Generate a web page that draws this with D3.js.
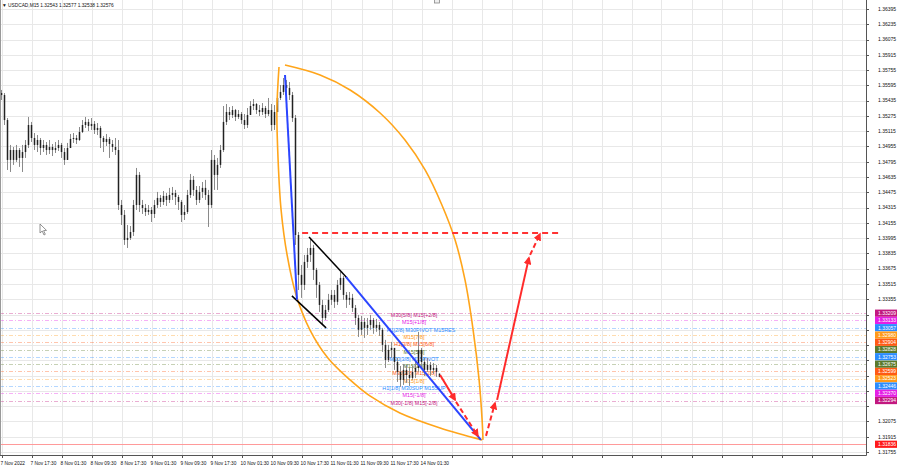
<!DOCTYPE html>
<html><head><meta charset="utf-8">
<script src="https://cdn.jsdelivr.net/npm/d3@7"></script>
<style>body{margin:0;background:#fff}svg{display:block;font-family:"Liberation Sans",Arial,sans-serif}</style>
</head><body><svg id="c" width="900" height="468"></svg>
<script>
// ---- data ----
const symbolTitle = "\u25BC USDCAD,M15  1.32543 1.32577 1.32538 1.32576";
const closes = [1.35494,1.35232,1.34814,1.34918,1.34814,1.34918,1.34835,1.34897,1.34971,1.35180,
1.35044,1.34971,1.35023,1.34939,1.34971,1.34918,1.34950,1.34918,1.34939,1.34971,
1.34897,1.34814,1.34939,1.35034,1.35044,1.35023,1.35107,1.35180,1.35212,1.35170,
1.35191,1.35128,1.35149,1.35044,1.35002,1.35034,1.34981,1.34950,1.34918,1.34342,
1.34238,1.33976,1.33997,1.34059,1.34342,1.34657,1.34342,1.34311,1.34269,1.34290,
1.34248,1.34342,1.34416,1.34374,1.34437,1.34395,1.34447,1.34468,1.34426,1.34374,
1.34238,1.34269,1.34447,1.34605,1.34500,1.34395,1.34479,1.34521,1.34447,1.34342,
1.34814,1.34657,1.34762,1.34918,1.35212,1.35316,1.35285,1.35337,1.35264,1.35295,
1.35232,1.35180,1.35285,1.35379,1.35400,1.35337,1.35316,1.35358,1.35295,1.35337,
1.35180,1.35316,1.35463,1.35526,1.35599,1.35568,1.35494,1.35253,1.34028,1.33610,
1.33505,1.33746,1.33819,1.33892,1.33662,1.33505,1.33295,1.33159,1.33243,1.33349,
1.33400,1.33328,1.33505,1.33578,1.33400,1.33349,1.33369,1.33264,1.33159,1.33035,
1.33117,1.33055,1.33086,1.33138,1.33055,1.33086,1.33035,1.32877,1.32719,1.32824,
1.32845,1.32698,1.32594,1.32510,1.32615,1.32562,1.32531,1.32594,1.32635,1.32824,
1.32698,1.32615,1.32667,1.32615,1.32635,1.32594,1.32576];
const highs = [1.35547,1.35515,1.35253,1.34971,1.34950,1.34971,1.34939,1.34971,1.35023,1.35264,
1.35212,1.35096,1.35075,1.35044,1.35023,1.35002,1.35023,1.34981,1.35002,1.35023,
1.34992,1.34939,1.34992,1.35086,1.35096,1.35075,1.35159,1.35232,1.35264,1.35243,
1.35253,1.35222,1.35201,1.35170,1.35065,1.35086,1.35054,1.35023,1.35044,1.35023,
1.34395,1.34290,1.34133,1.34122,1.34395,1.34730,1.34688,1.34395,1.34353,1.34342,
1.34321,1.34395,1.34479,1.34447,1.34489,1.34468,1.34521,1.34531,1.34500,1.34447,
1.34395,1.34342,1.34500,1.34667,1.34646,1.34541,1.34541,1.34583,1.34605,1.34500,
1.34918,1.34866,1.34835,1.34971,1.35379,1.35400,1.35368,1.35379,1.35348,1.35337,
1.35316,1.35295,1.35358,1.35431,1.35452,1.35410,1.35389,1.35410,1.35379,1.35463,
1.35400,1.35389,1.35547,1.35599,1.35672,1.35651,1.35630,1.35526,1.35285,1.34059,
1.33714,1.33819,1.33892,1.33997,1.33924,1.33683,1.33536,1.33349,1.33295,1.33411,
1.33452,1.33452,1.33557,1.33641,1.33599,1.33431,1.33431,1.33411,1.33295,1.33191,
1.33180,1.33159,1.33159,1.33191,1.33159,1.33149,1.33117,1.33055,1.32929,1.32877,
1.32908,1.32845,1.32740,1.32656,1.32677,1.32667,1.32635,1.32656,1.32719,1.33014,
1.32845,1.32740,1.32740,1.32698,1.32688,1.32667,1.32577];
const lows = [1.35442,1.35180,1.34709,1.34688,1.34762,1.34793,1.34741,1.34688,1.34835,1.34939,
1.35002,1.34918,1.34897,1.34866,1.34897,1.34866,1.34876,1.34855,1.34887,1.34908,
1.34835,1.34762,1.34814,1.34939,1.34992,1.34981,1.35013,1.35096,1.35149,1.35117,
1.35128,1.35086,1.35075,1.34939,1.34897,1.34960,1.34835,1.34897,1.34866,1.34290,
1.34133,1.33924,1.33892,1.33976,1.34018,1.34290,1.34269,1.34248,1.34227,1.34238,
1.34164,1.34206,1.34311,1.34321,1.34342,1.34332,1.34363,1.34395,1.34342,1.34290,
1.34164,1.34185,1.34248,1.34416,1.34437,1.34342,1.34363,1.34416,1.34395,1.34112,
1.34311,1.34500,1.34500,1.34730,1.34897,1.35180,1.35232,1.35253,1.35222,1.35243,
1.35191,1.35138,1.35149,1.35316,1.35337,1.35295,1.35274,1.35285,1.35253,1.35274,
1.35117,1.35128,1.35400,1.35442,1.35494,1.35505,1.35442,1.35212,1.33924,1.33452,
1.33369,1.33452,1.33683,1.33746,1.33557,1.33369,1.33222,1.33096,1.33138,1.33222,
1.33295,1.33264,1.33295,1.33452,1.33349,1.33264,1.33295,1.33222,1.33086,1.32960,
1.32981,1.32950,1.32981,1.33035,1.32993,1.33014,1.32971,1.32803,1.32635,1.32698,
1.32740,1.32615,1.32489,1.32437,1.32458,1.32479,1.32447,1.32510,1.32531,1.32594,
1.32635,1.32552,1.32594,1.32552,1.32573,1.32541,1.32538];
const firstOpen = 1.35515, lastOpen = 1.32543;

const timeLabels = ["7 Nov 2022","7 Nov 17:30","8 Nov 01:30","8 Nov 09:30","8 Nov 17:30","9 Nov 01:30","9 Nov 09:30","9 Nov 17:30","10 Nov 01:30","10 Nov 09:30","10 Nov 17:30","11 Nov 01:30","11 Nov 09:30","11 Nov 17:30","14 Nov 01:30"];
const timeLabelBars = [0,10,20,30,40,50,60,70,80,90,100,110,120,130,140];
const priceTicks = [1.31755,1.31915,1.32075,1.32235,1.32395,1.32555,1.32715,1.32875,1.33035,1.33195,1.33355,1.33515,1.33675,1.33835,1.33995,1.34155,1.34315,1.34475,1.34635,1.34795,1.34955,1.35115,1.35275,1.35435,1.35595,1.35755,1.35915,1.36075,1.36235,1.36395];

const levelPrices = [1.33209,1.33133,1.33057,1.32980,1.32904,1.32828,1.32753,1.32675,1.32599,1.32523,1.32446,1.32370,1.32294];
const levelNames = ["M30[5/8] M15[+2/8]","M15[+1/8]","H1[2/8] M30PIVOT M15RES","M15[7/8]","H1[3/8] M15[6/8]","M15[5/8]","M30[3/8] M15PIVOT","M15[3/8]","M30[2/8] M15[2/8]","M15[1/8]","H1[1/8] M30SUP M15SUP","M15[-1/8]","M30[-1/8] M15[-2/8]"];
const levelColors = ["#c2187f","#e51fe5","#2b8cff","#ff9a1a","#ff5a14","#5b7a2c","#2b8cff","#5b7a2c","#ff5a14","#ff9a1a","#2b8cff","#e51fe5","#c2187f"];
const stopPrice = 1.31836;

// drawn objects: [bar index, price]
const orangeLeft = [[92.5,1.35787],[91.8,1.35337],[92.2,1.34814],[93.2,1.34290],[95.2,1.33819],[98.2,1.33400],[102.8,1.33035],[108.8,1.32740],[116.2,1.32510],[122.8,1.32342],[132.8,1.32164],[146.2,1.32007],[160.2,1.31882]];
const orangeRight = [[94.5,1.35808],[106.2,1.35704],[116.2,1.35547],[126.2,1.35306],[134.5,1.35023],[141.2,1.34709],[146.8,1.34342],[151.2,1.33976],[154.5,1.33557],[157.2,1.33035],[159.2,1.32510],[160.2,1.32091],[160.5,1.31882]];
const blueLines = [[[94.5,1.35704],[98.5,1.33349]],[[114.8,1.33589],[159.8,1.31882]]];
const blackLines = [[[102.5,1.34007],[115.2,1.33578]],[[96.8,1.33390],[108.2,1.33055]]];
const targetLine = [[100.2,1.34049],[186.8,1.34049]];
const arrowPaths = [
  [[146.2,1.32562],[151.2,1.32301]],
  [[151.5,1.32280],[158.8,1.31924]],
  [[161.5,1.31924],[164.5,1.32269]],
  [[165.2,1.32301],[175.8,1.33788]],
  [[176.2,1.33819],[179.5,1.34039]]
];

// ---- layout ----
const PR = 866, PB = 455;
const svg = d3.select("#c");
const x = d3.scaleLinear().domain([0,288]).range([1.5,865.5]);
const y = d3.scaleLinear().domain([1.31755,1.36395]).range([452,9]);

svg.append("rect").attr("width",900).attr("height",468).attr("fill","#fff");
const defs = svg.append("defs");
defs.append("clipPath").attr("id","plot").append("rect").attr("x",0).attr("y",0).attr("width",PR).attr("height",PB);
defs.append("marker").attr("id","ah").attr("viewBox","0 0 10 10").attr("refX",8).attr("refY",5)
  .attr("markerWidth",8).attr("markerHeight",8).attr("markerUnits","userSpaceOnUse").attr("orient","auto")
  .append("path").attr("d","M0,0 L10,5 L0,10 Z").attr("fill","#ff2b2b");

const g = svg.append("g").attr("clip-path","url(#plot)");

// grid
const vGrid = d3.range(0,290,10);
g.selectAll(".vg").data(vGrid).join("line").attr("x1",d=>Math.round(x(d))+0.5).attr("x2",d=>Math.round(x(d))+0.5)
  .attr("y1",0).attr("y2",PB).attr("stroke","#e8e8e8").attr("stroke-width",1);
g.selectAll(".hg").data(priceTicks).join("line").attr("x1",0).attr("x2",PR)
  .attr("y1",d=>Math.round(y(d))+0.5).attr("y2",d=>Math.round(y(d))+0.5).attr("stroke","#e8e8e8").attr("stroke-width",1);

// level lines
g.selectAll(".lv").data(levelPrices).join("line").attr("x1",0).attr("x2",PR)
  .attr("y1",d=>Math.round(y(d))+0.5).attr("y2",d=>Math.round(y(d))+0.5)
  .attr("stroke",(d,i)=>levelColors[i]).attr("stroke-opacity",0.35).attr("stroke-dasharray","4,2,1,2");
g.append("line").attr("x1",0).attr("x2",PR).attr("y1",Math.round(y(stopPrice))+0.5).attr("y2",Math.round(y(stopPrice))+0.5)
  .attr("stroke","#ff9a9a").attr("stroke-width",1);

// level texts
g.selectAll(".lt").data(levelPrices).join("text").attr("x",(d,i)=> i===2 ? 421 : 414).attr("y",d=>y(d)+4)
  .attr("text-anchor","middle").attr("font-size",5.4).attr("fill",(d,i)=>levelColors[i]).text((d,i)=>levelNames[i]);

// candles
const bars = closes.map((c,i)=>{
  const o = i===0 ? firstOpen : (i===closes.length-1 ? lastOpen : closes[i-1]);
  return {i, o, c, h:Math.max(highs[i],o,c), l:Math.min(lows[i],o,c)};
});
g.selectAll(".wk").data(bars).join("line").attr("x1",d=>x(d.i)).attr("x2",d=>x(d.i))
  .attr("y1",d=>y(d.h)).attr("y2",d=>y(d.l)).attr("stroke","#8a8a8a").attr("stroke-width",1);
g.selectAll(".bd").data(bars).join("rect").attr("x",d=>x(d.i)-0.75).attr("width",1.5)
  .attr("y",d=>y(Math.max(d.o,d.c))).attr("height",d=>Math.max(1,Math.abs(y(d.o)-y(d.c))))
  .attr("fill","#222");

const line = d3.line().x(d=>x(d[0])).y(d=>y(d[1]));
const curve = d3.line().x(d=>x(d[0])).y(d=>y(d[1])).curve(d3.curveCatmullRom.alpha(0.5));

// orange arcs
[orangeLeft, orangeRight].forEach(p=>g.append("path").attr("d",curve(p)).attr("fill","none").attr("stroke","#ffa51a").attr("stroke-width",1.6));
// black lines
blackLines.forEach(p=>g.append("path").attr("d",line(p)).attr("stroke","#000").attr("stroke-width",1.5));
// blue lines
blueLines.forEach(p=>g.append("path").attr("d",line(p)).attr("stroke","#2b45ff").attr("stroke-width",2));
// target
g.append("path").attr("d",line(targetLine)).attr("stroke","#ff3333").attr("stroke-width",2).attr("stroke-dasharray","6,4");
// arrows
const dashedArrows = new Set([1,2,4]);
arrowPaths.forEach((p,k)=>g.append("path").attr("d",line(p)).attr("stroke","#ff2b2b").attr("stroke-width",2)
  .attr("stroke-dasharray",dashedArrows.has(k)?"5,3":null).attr("marker-end","url(#ah)"));

// frame
svg.append("line").attr("x1",PR+0.5).attr("x2",PR+0.5).attr("y1",0).attr("y2",PB+0.5).attr("stroke","#555");
svg.append("line").attr("x1",0).attr("x2",PR+0.5).attr("y1",PB+0.5).attr("y2",PB+0.5).attr("stroke","#555");
svg.append("line").attr("x1",0.5).attr("x2",0.5).attr("y1",0).attr("y2",PB).attr("stroke","#999");

// right axis (labels hidden where level boxes sit)
const boxes = levelPrices.map((p,i)=>({p,c:levelColors[i]})).concat([{p:stopPrice,c:"#ff1a1a"}]);
const freeTicks = priceTicks.filter(t=>boxes.every(b=>Math.abs(y(b.p)-y(t))>6.5));
svg.selectAll(".rt").data(priceTicks).join("line").attr("x1",PR).attr("x2",PR+3)
  .attr("y1",d=>Math.round(y(d))+0.5).attr("y2",d=>Math.round(y(d))+0.5).attr("stroke","#555");
svg.selectAll(".rl").data(freeTicks).join("text").attr("x",878).attr("y",d=>y(d)+1.8)
  .attr("font-size",5).attr("fill","#111").text(d=>d.toFixed(5));

// bottom axis
svg.selectAll(".bt").data(vGrid).join("line").attr("x1",d=>Math.round(x(d))+0.5).attr("x2",d=>Math.round(x(d))+0.5)
  .attr("y1",PB).attr("y2",PB+3).attr("stroke","#555");
svg.selectAll(".bl").data(timeLabels).join("text").attr("x",(d,i)=>x(timeLabelBars[i])-1).attr("y",465)
  .attr("font-size",4.8).attr("fill","#111").text(d=>d);

// level boxes on price axis
const bx = svg.selectAll(".bx").data(boxes).join("g").attr("transform",d=>`translate(875,${y(d.p)})`);
bx.append("rect").attr("x",0).attr("y",-3.6).attr("width",22).attr("height",7.2).attr("fill",d=>d.c);
bx.append("text").attr("x",3).attr("y",1.8).attr("font-size",5).attr("fill","#fff").text(d=>d.p.toFixed(5));

// title & small marks
svg.append("text").attr("x",2).attr("y",6.5).attr("font-size",4.8).attr("fill","#111").text(symbolTitle);
svg.append("rect").attr("x",434.5).attr("y",-1).attr("width",5).attr("height",4).attr("fill","#eee").attr("stroke","#888").attr("stroke-width",0.8);
svg.append("path").attr("d","M40,224 L40,233 L42.2,231 L44,235 L45.3,234.3 L43.6,230.6 L46.5,230.4 Z")
  .attr("fill","#fff").attr("stroke","#777").attr("stroke-width",0.8);
</script></body></html>
